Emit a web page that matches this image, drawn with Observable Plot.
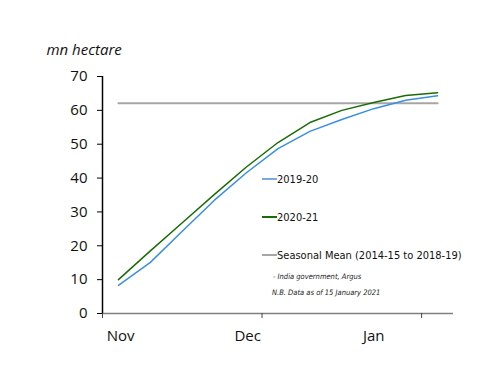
<!DOCTYPE html>
<html>
<head>
<meta charset="utf-8">
<script src="https://cdn.jsdelivr.net/npm/d3@7"></script>
<script src="https://cdn.jsdelivr.net/npm/@observablehq/plot@0.6"></script>
<style>
  html, body { margin: 0; padding: 0; background: #fff; }
  #wrap { position: relative; width: 500px; height: 386px; }
  #legend { position: absolute; left: 262px; top: 170px; font-family: "DejaVu Sans Condensed", "DejaVu Sans", sans-serif; }
  .item { display: flex; align-items: center; height: 18px; margin-bottom: 20px; font-size: 11px; color: #111; }
  .swatch { width: 15px; height: 2px; margin-right: 0px; }
  .note { font-style: italic; font-size: 7.5px; color: #222; margin-left: 10px; }
</style>
</head>
<body>
<div id="wrap"></div>
<script>
// Days since 1 November for each observation
const days = [3, 9, 15, 21, 27, 33, 39, 45, 51, 57, 63];
const sown2019 = [8.3, 15.1, 24.3, 33.4, 41.5, 48.7, 53.8, 57.3, 60.5, 63.0, 64.3];
const sown2020 = [10.0, 18.5, 26.8, 35.1, 43.2, 50.5, 56.4, 60.0, 62.3, 64.4, 65.2];
const seasonalMean = 62.1;
const seriesNames = ["2019-20", "2020-21", "Seasonal Mean (2014-15 to 2018-19)"];
const seriesColors = ["#3a8fdf", "#1b6b06", "#a6a6a6"];
const legendColors = ["#7aa9dc", "#1b6b06", "#a6a6a6"];
const monthTicks = [0, 30, 60];
const monthLabelPos = [3.4, 27.3, 51];
const monthLabels = ["Nov", "Dec", "Jan"];
const yTicks = [0, 10, 20, 30, 40, 50, 60, 70];
const notes = ["- India government, Argus", "N.B. Data as of 15 January 2021"];

const rows = [];
days.forEach((d, i) => {
  rows.push({day: d, value: sown2019[i], series: seriesNames[0]});
  rows.push({day: d, value: sown2020[i], series: seriesNames[1]});
});
const meanRows = [{day: days[0], value: seasonalMean}, {day: days[days.length - 1], value: seasonalMean}];

const chart = Plot.plot({
  width: 500,
  height: 386,
  marginLeft: 102,
  marginRight: 47,
  marginTop: 76,
  marginBottom: 73,
  style: {fontFamily: "'Open Sans', sans-serif", background: "#fff"},
  x: {domain: [0, 66]},
  y: {domain: [0, 70]},
  marks: [
    Plot.lineY(meanRows, {x: "day", y: "value", stroke: seriesColors[2], strokeWidth: 2}),
    Plot.lineY(rows.filter(r => r.series === seriesNames[0]), {x: "day", y: "value", stroke: seriesColors[0], strokeWidth: 1.5}),
    Plot.lineY(rows.filter(r => r.series === seriesNames[1]), {x: "day", y: "value", stroke: seriesColors[1], strokeWidth: 1.5}),
    Plot.ruleY([0], {x1: 0, x2: 66, stroke: "#808080", strokeWidth: 1.5}),
    Plot.ruleX([0], {y1: 0, y2: 70, stroke: "#000", strokeWidth: 1.5}),
    Plot.axisY({ticks: yTicks, tickSize: 5, tickPadding: 10, fontSize: 15, stroke: "#000", color: "#111", label: null}),
    Plot.axisX({ticks: monthTicks, tickSize: 5, tickFormat: () => "", stroke: "#444", label: null}),
    Plot.axisX({ticks: monthLabelPos, tickSize: 0, tickPadding: 17, fontSize: 15, color: "#111",
      tickFormat: (d) => monthLabels[monthLabelPos.indexOf(d)], label: null}),
    Plot.text(["mn hectare"], {frameAnchor: "top-left", dx: -56, dy: -22, lineAnchor: "bottom", textAnchor: "start",
      fontSize: 15, fontStyle: "italic", fill: "#111"})
  ]
});
const wrap = document.getElementById("wrap");
wrap.appendChild(chart);

const legend = d3.select(wrap).append("div").attr("id", "legend");
seriesNames.forEach((name, i) => {
  const item = legend.append("div").attr("class", "item");
  item.append("div").attr("class", "swatch").style("background", legendColors[i]);
  item.append("span").text(name);
});
legend.selectAll("div.note").data(notes).join("div").attr("class", "note")
  .style("margin-top", (d, i) => i === 0 ? "-12px" : "7px")
  .style("margin-left", (d, i) => i === 0 ? "11px" : "10px")
  .text(d => d);
</script>
</body>
</html>
